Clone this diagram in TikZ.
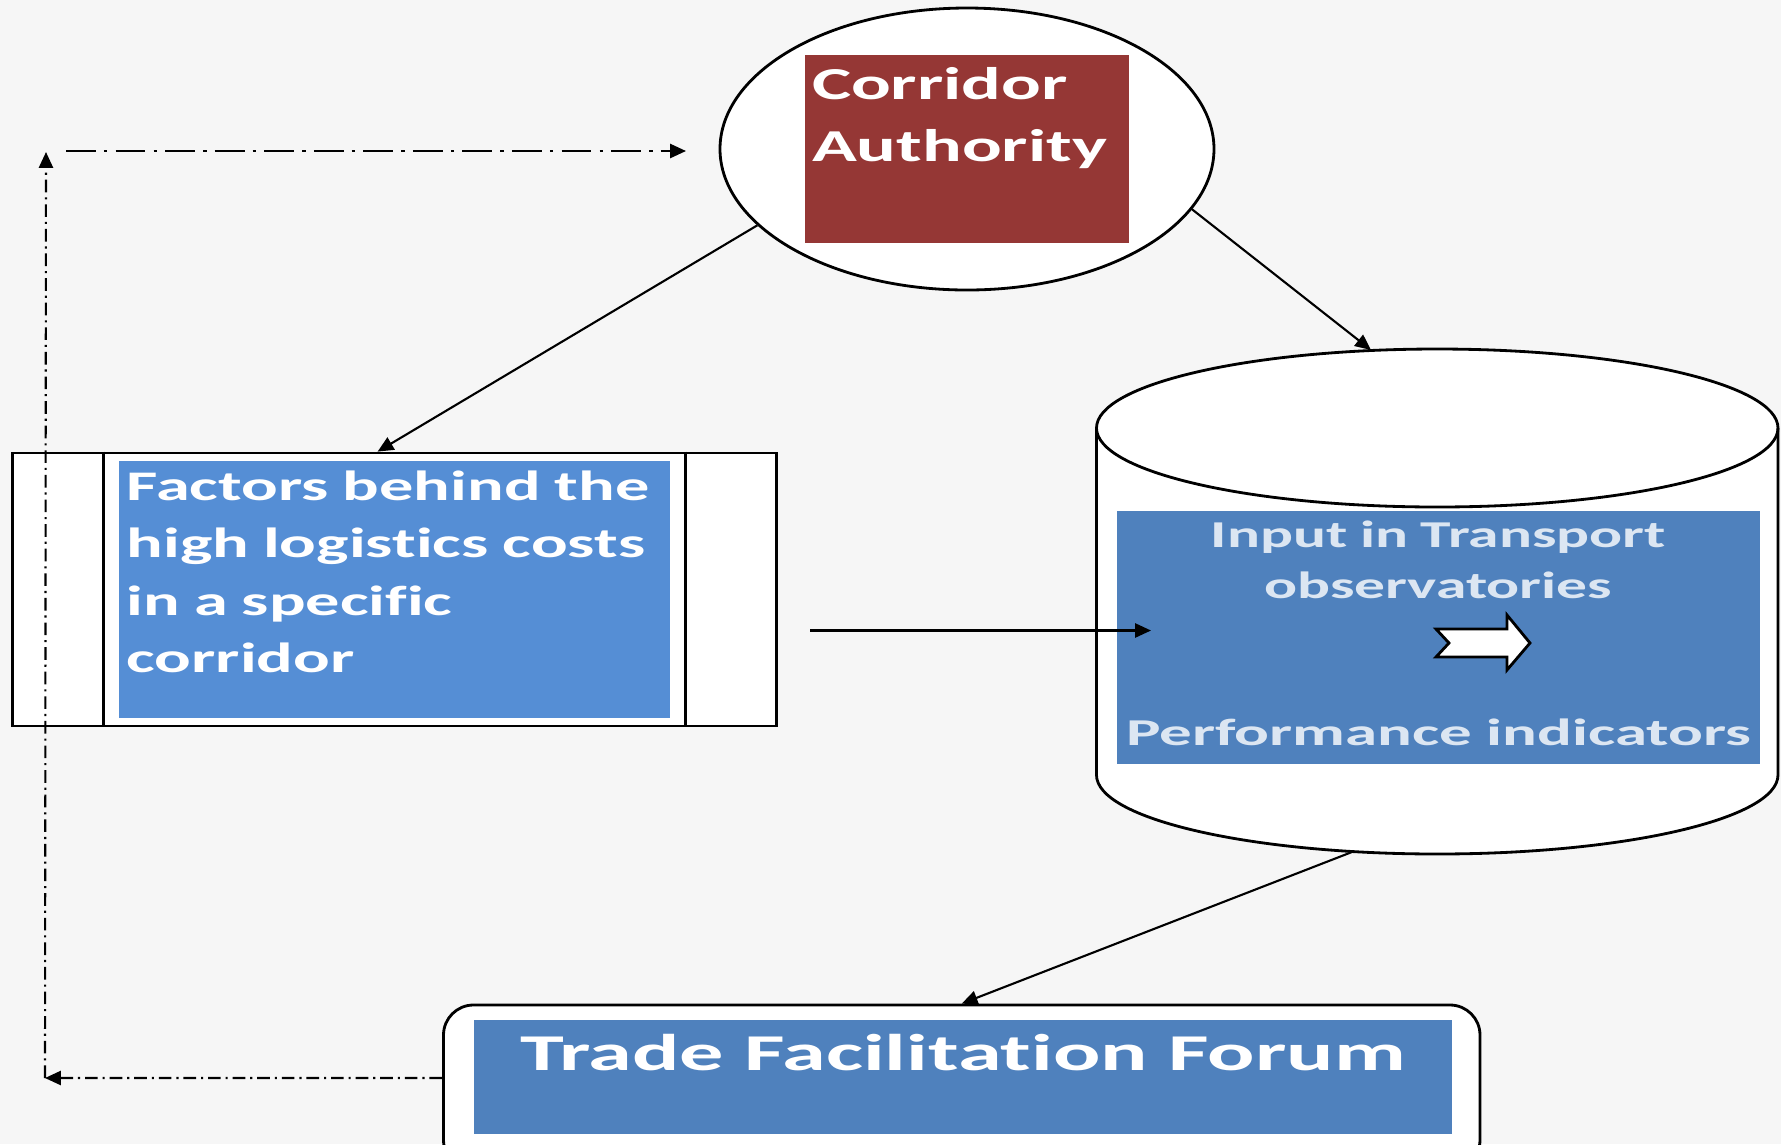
\documentclass[tikz,border=0pt]{standalone}
\usepackage{fontspec}
\newfontfamily\diagfont{Carlito}[FakeStretch=1.62, Ligatures={NoCommon}]
\newfontfamily\widefont{Carlito}[FakeStretch=1.71, Ligatures={NoCommon}]
\usetikzlibrary{shapes.geometric,arrows.meta}
\definecolor{authorityred}{RGB}{149,55,53}
\definecolor{factorblue}{RGB}{85,142,213}
\definecolor{officeblue}{RGB}{79,129,189}
\definecolor{paletext}{RGB}{220,230,242}
\definecolor{paper}{RGB}{246,246,246}
\tikzstyle{flowchartstyle}=[
    x=0.1mm, y=-0.1mm,
    >={Triangle[length=4.5pt,width=4pt]},
    semithick,
    every node/.style={font=\diagfont\bfseries, inner sep=0pt},
]
\tikzstyle{outline}=[draw, thick, fill=white]
\tikzstyle{drumend}=[x radius=34.075mm, y radius=7.9mm]
\tikzstyle{feedback}=[dash pattern=on 3.6pt off 1.4pt on 0.6pt off 1.4pt]
\tikzstyle{longfeedback}=[dash pattern=on 8.5pt off 2.3pt on 1pt off 2.3pt]

\begin{document}
\begin{tikzpicture}[flowchartstyle]
        \fill[paper] (0,0) rectangle (1781,1144);
        \useasboundingbox (0,0) rectangle (1781,1144);
        % corridor authority
        \node[ellipse, outline, minimum width=49.4mm, minimum height=28.2mm] (authority) at (967,149) {};
        \node[fill=authorityred, text=white, font=\diagfont\bfseries\fontsize{13}{17.9}\selectfont,
            text width=31mm, align=left, inner xsep=0.7mm, text height=4.4mm, text depth=14.4mm]
            (authoritybox) at (967,149) {Corridor\\Authority};
        % factors
        \node[rectangle, outline, minimum width=76.37mm, minimum height=27.3mm] (process) at (394.6,589.5) {};
        \draw[thick] ([xshift=9.2mm]process.north west) -- ([xshift=9.2mm]process.south west);
        \draw[thick] ([xshift=-9.2mm]process.north east) -- ([xshift=-9.2mm]process.south east);
        \node[fill=factorblue, text=white, font=\diagfont\bfseries\fontsize{12}{16.4}\selectfont,
            text width=53.6mm, align=left, inner xsep=0.75mm, text height=3.9mm, text depth=21.8mm]
            (factors) at (394.5,589.5) {Factors behind the\\high logistics costs\\in a specific\\corridor};
        % observatories
        \draw[outline] (1096.5,428) -- (1096.5,775) arc[start angle=180, end angle=360, drumend]
            -- (1778,428) arc[start angle=0, end angle=180, drumend] -- cycle;
        \draw[thick] (1096.5,428) arc[start angle=180, end angle=360, drumend];
        \coordinate (observatorytop) at (1371,350);
        \coordinate (observatorybottom) at (1352,852);
        \node[fill=officeblue, text=paletext, font=\diagfont\bfseries\fontsize{10.8}{14.6}\selectfont,
            text width=64.25mm, align=center, text height=3.6mm, text depth=21.7mm]
            (inputbox) at (1438.25,637.5) {Input in Transport\\observatories};
        \node[text=paletext, font=\widefont\bfseries\fontsize{10.8}{14.2}\selectfont, anchor=base]
            (performance) at (1439,745) {Performance indicators};
        \draw[thick, fill=white] (1436,629) -- (1507,629) -- (1507,615) -- (1530,643) -- (1507,670)
            -- (1507,657) -- (1436,657) -- (1449,643) -- cycle;
        % forum
        \node[rectangle, rounded corners=3mm, outline, minimum width=103.65mm, minimum height=16.5mm]
            (forum) at (961.75,1087.5) {};
        \node[fill=officeblue, text=white, font=\widefont\bfseries\fontsize{14.7}{17}\selectfont,
            minimum width=97.83mm, text height=5mm, text depth=6.4mm]
            (forumbox) at (962.85,1077) {Trade Facilitation Forum};
        % connectors
        \draw[->] (authority.200) -- ([xshift=-1.7mm]process.north);
        \draw[->] (authority.345) -- (observatorytop);
        \draw[->] (observatorybottom) -- (forum.north);
        \coordinate (factorsout) at (810,630.5);
        \coordinate (inputin) at (1151,630.5);
        \draw[->] (factorsout) -- (inputin);
        % feedback loop
        \coordinate (loopcorner) at (45,1078);
        \coordinate (looptop) at (46,152);
        \coordinate (loopstart) at (66,151);
        \coordinate (authorityin) at (686,151);
        \draw[->, feedback] ([yshift=0.95mm]forum.west) -- (loopcorner);
        \draw[->, feedback] (loopcorner) -- (looptop);
        \draw[->, longfeedback] (loopstart) -- (authorityin);
    \end{tikzpicture}
\end{document}
